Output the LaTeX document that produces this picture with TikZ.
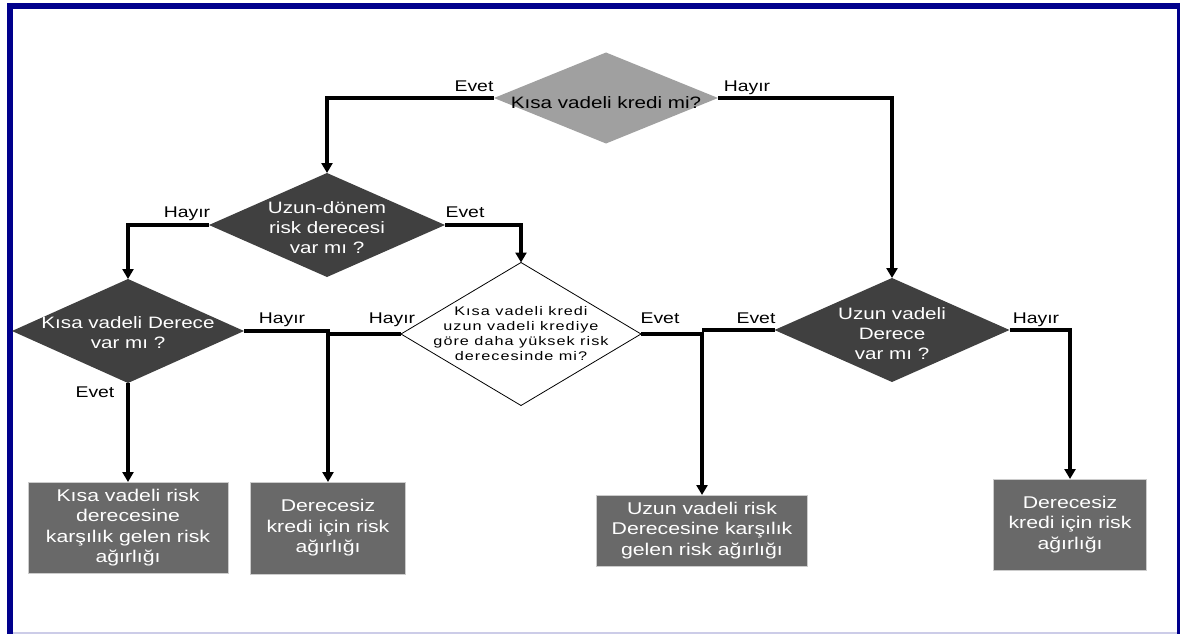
\documentclass[tikz,border=0pt]{standalone}
\usepackage{fontspec}
\setmainfont{Liberation Sans}[FakeStretch=1.25]
\newfontfamily\widefont{Liberation Sans}[FakeStretch=1.3,LetterSpace=8]
\usetikzlibrary{arrows.meta,shapes.geometric}
\definecolor{framenavy}{HTML}{00008C}
\definecolor{lightq}{HTML}{A0A0A0}
\definecolor{darkq}{HTML}{404040}
\definecolor{resbox}{HTML}{696969}

\begin{document}
\begin{tikzpicture}[x=1pt, y=-1pt,
    question/.style={diamond, inner sep=0pt, outer sep=0pt, fill=darkq},
    qtext/.style={text=white, align=center, inner sep=0pt, font=\fontsize{16.5}{20}\selectfont},
    result/.style={rectangle, fill=resbox, draw=gray!40, line width=0.6pt, inner sep=0pt, outer sep=0pt, text=white, align=center, font=\fontsize{17}{20.5}\selectfont},
    answer/.style={anchor=base, inner sep=0pt, font=\fontsize{15.5}{18}\selectfont},
    arrow/.style={-{Triangle[width=11pt,length=10pt]}, line width=3.2pt},
    link/.style={line width=3.2pt}
  ]
\useasboundingbox (0,0) rectangle (1180,634);
\fill[white] (0,0) rectangle (1180,634);
% frame
\draw[framenavy, line width=6pt] (10,634) -- (10,6) -- (1177,6);
\draw[framenavy, line width=3pt] (1178.5,3) -- (1178.5,634);
\draw[framenavy!20, line width=1.5pt] (13,633.2) -- (1177,633.2);

% questions
\node[question, fill=lightq, minimum width=224pt, minimum height=91pt,
  label={[qtext, text=black, yshift=-5pt]center:Kısa vadeli kredi mi?}] (short) at (606,98) {};
\node[question, minimum width=236pt, minimum height=104pt,
  label={[qtext, yshift=-3pt]center:Uzun-dönem\\risk derecesi\\var mı ?}] (longrate) at (327,225) {};
\node[question, minimum width=232pt, minimum height=104pt,
  label={[qtext, yshift=-2pt]center:Kısa vadeli Derece\\var mı ?}] (shortrate) at (128,331) {};
\node[question, fill=white, draw=black, line width=0.8pt, minimum width=240pt, minimum height=143pt,
  label={[qtext, text=black, font=\widefont\fontsize{12.5}{15}\selectfont]center:Kısa vadeli kredi\\uzun vadeli krediye\\göre daha yüksek risk\\derecesinde mi?}] (higher) at (521,334) {};
\node[question, minimum width=235pt, minimum height=104pt,
  label={[qtext, yshift=-4pt]center:Uzun vadeli\\Derece\\var mı ?}] (longdeg) at (892,330) {};

% results
\node[result, minimum width=200pt, minimum height=91pt] (wshort) at (128,527.5) {Kısa vadeli risk\\derecesine\\karşılık gelen risk\\ağırlığı};
\node[result, minimum width=155pt, minimum height=92pt] (unrated) at (328,528) {Derecesiz\\kredi için risk\\ağırlığı};
\node[result, minimum width=211pt, minimum height=71pt] (wlong) at (702,530.5) {Uzun vadeli risk\\Derecesine karşılık\\gelen risk ağırlığı};
\node[result, minimum width=153pt, minimum height=91pt] (unrated2) at (1070,524.5) {Derecesiz\\kredi için risk\\ağırlığı};

% connectors
\draw[arrow] (short.west) -| (longrate.north);
\draw[arrow] (short.east) -| (longdeg.north);
\draw[arrow] (longrate.west) -| (shortrate.north);
\draw[arrow] (longrate.east) -| (higher.north);
\draw[arrow] (shortrate.south) -- (wshort.north);
\draw[arrow] (shortrate.east) -| (unrated.north);
\draw[link] (higher.west) -- (higher.west -| unrated.north);
\draw[arrow] (higher.east) -| (wlong.north);
\draw[link] (longdeg.west) -- (longdeg.west -| wlong.north);
\draw[arrow] (longdeg.east) -| (unrated2.north);

% answers
\node[answer] (a1) at (474,91) {Evet};
\node[answer] (a2) at (747,91) {Hayır};
\node[answer] (a3) at (187,217) {Hayır};
\node[answer] (a4) at (465,217) {Evet};
\node[answer] (a5) at (282,323) {Hayır};
\node[answer] (a6) at (392,323) {Hayır};
\node[answer] (a7) at (660,323) {Evet};
\node[answer] (a8) at (756,323) {Evet};
\node[answer] (a9) at (1036,323) {Hayır};
\node[answer] (a10) at (95,397) {Evet};
\end{tikzpicture}
\end{document}
